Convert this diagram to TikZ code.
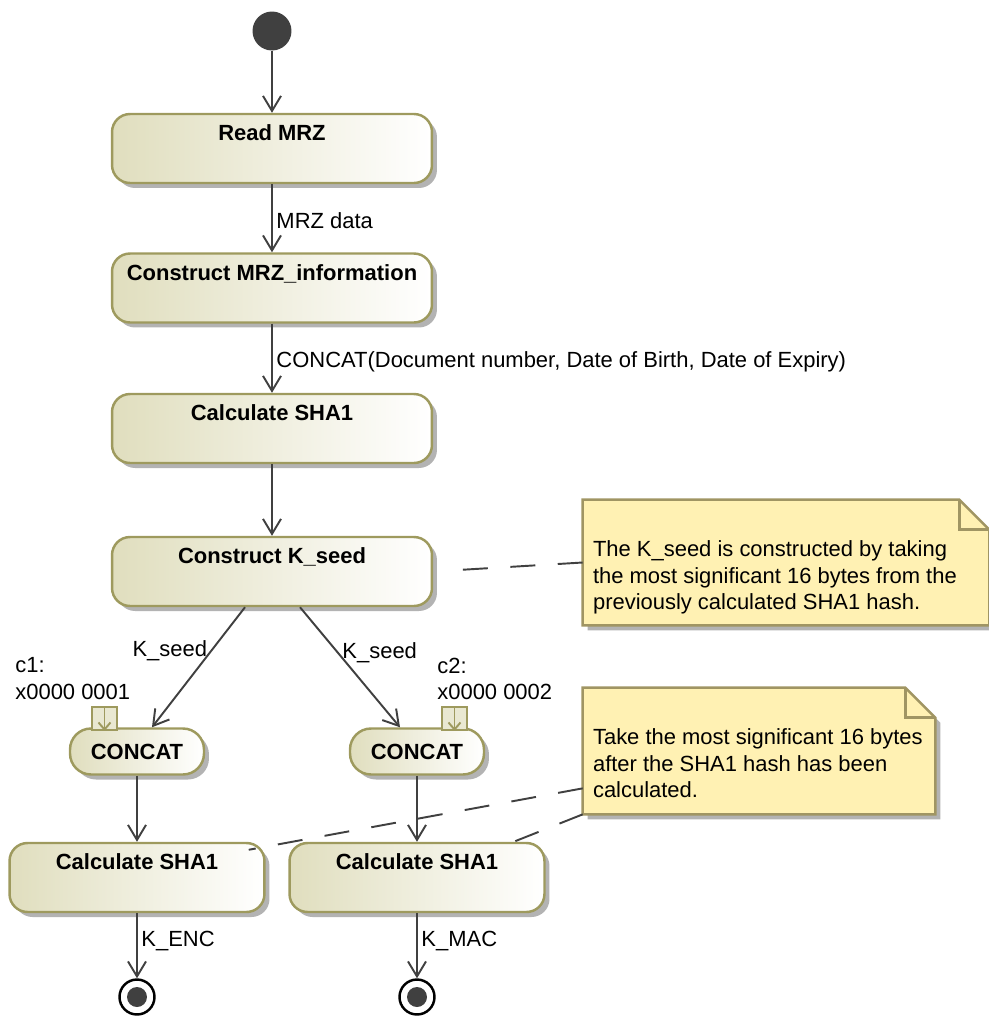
\documentclass[tikz,border=0pt]{standalone}
\usepackage{fontspec}
\setmainfont{Liberation Sans}
\usetikzlibrary{arrows.meta, positioning, calc, shadows}
\definecolor{inkline}{HTML}{404040}
\definecolor{actborder}{HTML}{9E9A5E}
\definecolor{actfill}{HTML}{E0DEBE}
\definecolor{notefill}{HTML}{FFF1B3}
\definecolor{noteborder}{HTML}{A09563}
\definecolor{shadowgray}{HTML}{B3B3B3}
\pgfdeclarelayer{notebg}
\pgfsetlayers{notebg,main}
\newcommand{\notepath}[1]{(#1.north west) -- ([xshift=-0.6cm]#1.north east) -- ([yshift=-0.6cm]#1.north east) -- (#1.south east) -- (#1.south west) -- cycle}

\begin{document}
\begin{tikzpicture}[
  x=0.02cm, y=-0.02cm,
  act/.style={draw=actborder, line width=1.4pt, rounded corners=0.36cm, left color=actfill, right color=white,
    drop shadow={shadow xshift=0.1cm, shadow yshift=-0.1cm, fill=shadowgray, opacity=1},
    minimum width=6.4cm, text height=0.53cm, text depth=0.85cm, inner ysep=0, font=\bfseries\fontsize{12.5}{15}\selectfont},
  concat/.style={act, rounded corners=0.42cm, minimum width=2.68cm, minimum height=0.92cm, text height=, text depth=},
  pinbox/.style={draw=actborder, line width=1.1pt, fill=actfill!70, minimum width=0.5cm, minimum height=0.46cm, inner sep=0},
  initnode/.style={circle, fill=inkline, minimum size=0.78cm, inner sep=0},
  finalnode/.style={circle, draw=black, line width=1.4pt, fill=white, minimum size=0.7cm, inner sep=0,
    path picture={\fill[inkline] (path picture bounding box.center) circle (0.2cm);}},
  notetext/.style={inner xsep=0.2cm, inner ysep=0.1cm, font=\fontsize{12.5}{15}\selectfont},
  lbl/.style={font=\fontsize{12.5}{15}\selectfont, inner sep=2pt},
  flow/.style={draw=inkline, line width=1.1pt, -{Straight Barb[length=0.3cm, width=0.36cm]}},
  pinarrow/.style={draw=actborder, line width=1.1pt, -{Straight Barb[length=0.14cm, width=0.24cm]}},
  anchorline/.style={draw=inkline, line width=1.1pt, dash pattern=on 0.5cm off 0.45cm},
  noteline/.style={draw=noteborder, line width=1.4pt}
]
\useasboundingbox (0,0) rectangle (989,1018);

% main flow
\node[initnode] (init) at (272,31) {};
\node[act] (readmrz) at (272,148.5) {Read MRZ};
\node[act] (mrzinfo) at (272,288) {Construct MRZ\_information};
\node[act] (sha1) at (272,428.5) {Calculate SHA1};
\node[act] (kseed) at (272,571.5) {Construct K\_seed};

\draw[flow] (init) -- (readmrz);
\draw[flow] (readmrz) -- node[lbl, right, pos=0.53]{MRZ data} (mrzinfo);
\draw[flow] (mrzinfo) -- node[lbl, right, pos=0.55]{CONCAT(Document number, Date of Birth, Date of Expiry)} (sha1);
\draw[flow] (sha1) -- (kseed);

% two branches
\node[concat] (concat1) at (137,751.5) {CONCAT};
\node[concat] (concat2) at (417,751.5) {CONCAT};
\node[pinbox] (pin1) at (104.5,718.5) {};
\node[pinbox] (pin2) at (454.5,718.5) {};
\draw[pinarrow] (pin1.north) -- (pin1.south);
\draw[pinarrow] (pin2.north) -- (pin2.south);
\node[lbl, align=left, anchor=north west] (c1) at (11.5,654) {c1:\\x0000 0001};
\node[lbl, align=left, anchor=north west] (c2) at (433.5,654) {c2:\\x0000 0002};

\draw[flow] ([xshift=-0.54cm]kseed.south) -- node[lbl, left, pos=0.36]{K\_seed} ([xshift=0.3cm]concat1.north);
\draw[flow] ([xshift=0.56cm]kseed.south) -- node[lbl, right, pos=0.38]{K\_seed} ([xshift=-0.34cm]concat2.north);

\node[act, minimum width=5.1cm] (sha1l) at (137,877.5) {Calculate SHA1};
\node[act, minimum width=5.1cm] (sha1r) at (417,877.5) {Calculate SHA1};
\draw[flow] (concat1) -- (sha1l);
\draw[flow] (concat2) -- (sha1r);

\node[finalnode] (end1) at (137,997) {};
\node[finalnode] (end2) at (417,997) {};
\draw[flow] (sha1l) -- node[lbl, right, pos=0.42]{K\_ENC} (end1);
\draw[flow] (sha1r) -- node[lbl, right, pos=0.42]{K\_MAC} (end2);

% notes
\node[notetext] (note1) at (786,562.5) {\parbox[c][2.3cm][t]{7.72cm}{\raggedright\vspace*{0.72cm}
  The K\_seed is constructed by taking\\ the most significant 16 bytes from the\\ previously calculated SHA1 hash.}};
\node[notetext] (note2) at (759,751) {\parbox[c][2.32cm][t]{6.64cm}{\raggedright\vspace*{0.72cm}
  Take the most significant 16 bytes\\ after the SHA1 hash has been\\ calculated.}};
\begin{pgfonlayer}{notebg}
  \foreach \n in {note1, note2} {
    \fill[shadowgray, transform canvas={shift={(0.1cm,-0.1cm)}}] \notepath{\n};
    \filldraw[noteline, fill=notefill] \notepath{\n};
  }
\end{pgfonlayer}
\foreach \n in {note1, note2}
  \draw[noteline] ([xshift=-0.6cm]\n.north east) |- ([yshift=-0.6cm]\n.north east);

\draw[anchorline, shorten >=0.42cm] (note1.west) -- (kseed.east);
\draw[anchorline] ([yshift=0.52cm]note2.south west) -- ([xshift=-0.34cm, yshift=-0.16cm]sha1l.north east);
\draw[anchorline] (note2.south west) -- ([xshift=-0.64cm]sha1r.north east);
\end{tikzpicture}
\end{document}
